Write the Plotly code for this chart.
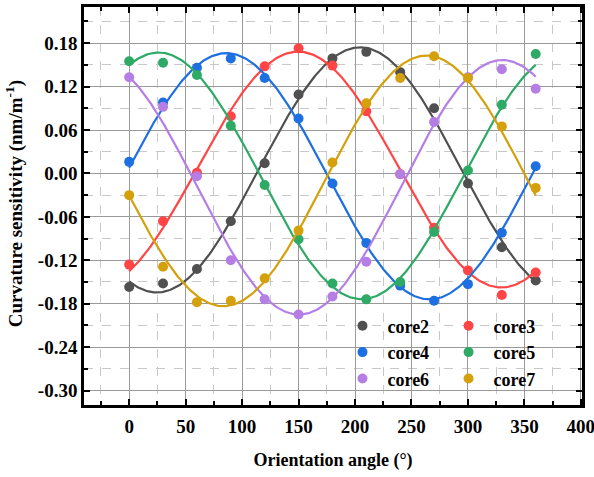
import numpy as np
import plotly.graph_objects as go

angles = [0, 30, 60, 90, 120, 150, 180, 210, 240, 270, 300, 330, 360]

core2 = [-0.157, -0.152, -0.132, -0.066, 0.014, 0.109, 0.159, 0.168, 0.140, 0.090, -0.014, -0.102, -0.148]
core3 = [-0.126, -0.066, 0.001, 0.079, 0.148, 0.173, 0.149, 0.086, -0.001, -0.075, -0.134, -0.168, -0.137]
core4 = [0.016, 0.098, 0.146, 0.159, 0.132, 0.076, -0.014, -0.096, -0.155, -0.176, -0.153, -0.082, 0.010]
core5 = [0.155, 0.153, 0.136, 0.066, -0.016, -0.091, -0.152, -0.174, -0.150, -0.081, 0.004, 0.095, 0.165]
core6 = [0.133, 0.092, -0.004, -0.120, -0.174, -0.195, -0.170, -0.122, -0.001, 0.071, 0.133, 0.144, 0.117]
core7 = [-0.030, -0.129, -0.178, -0.176, -0.145, -0.079, 0.015, 0.097, 0.132, 0.162, 0.132, 0.065, -0.020]

series_names = ["core2", "core3", "core4", "core5", "core6", "core7"]
series_values = [core2, core3, core4, core5, core6, core7]
series_colors = ["#505050", "#FF4545", "#1E6FE0", "#2EAA66", "#B47EE5", "#D4A00C"]
legend_ids = ["legend", "legend2", "legend", "legend2", "legend", "legend2"]

x_tick_vals = [0, 50, 100, 150, 200, 250, 300, 350, 400]
x_tick_labels = ["0", "50", "100", "150", "200", "250", "300", "350", "400"]
y_tick_vals = [-0.30, -0.24, -0.18, -0.12, -0.06, 0.00, 0.06, 0.12, 0.18]
y_tick_labels = ["-0.30", "-0.24", "-0.18", "-0.12", "-0.06", "0.00", "0.06", "0.12", "0.18"]

FONT = "Liberation Serif"

fig = go.Figure()

xa = np.array(angles, dtype=float)
xf = np.linspace(0, 360, 361)
for name, vals, col, lg in zip(series_names, series_values, series_colors, legend_ids):
    # least-squares sinusoidal fit (period 360 deg) of the measured points
    rad = np.deg2rad(xa)
    A = np.column_stack([np.ones_like(rad), np.sin(rad), np.cos(rad)])
    coef, *_ = np.linalg.lstsq(A, np.array(vals), rcond=None)
    rf = np.deg2rad(xf)
    yf = coef[0] + coef[1] * np.sin(rf) + coef[2] * np.cos(rf)
    fig.add_trace(go.Scatter(x=xf, y=yf, mode="lines", line=dict(color=col, width=2.2),
                             showlegend=False, hoverinfo="skip"))
    fig.add_trace(go.Scatter(x=angles, y=vals, mode="markers", name=name,
                             marker=dict(color=col, size=10), legend=lg))

axis_common = dict(
    showline=True, linecolor="black", linewidth=2.5, mirror="ticks",
    ticks="inside", ticklen=6, tickwidth=2, tickcolor="black",
    showgrid=True, gridcolor="#9a9a9a", gridwidth=1.3,
    zeroline=False, automargin=False,
    tickfont=dict(family=FONT, size=19, color="black", weight="bold"),
)

fig.update_xaxes(
    range=[-40, 401], tickvals=x_tick_vals, ticktext=x_tick_labels,
    minor=dict(dtick=25, tick0=0, ticks="inside", ticklen=4, tickwidth=1.5, tickcolor="black",
               showgrid=True, gridcolor="#c8c8c8", griddash="dash", gridwidth=1.2),
    title=dict(text="Orientation angle (°)", font=dict(family=FONT, size=18, color="black", weight="bold"),
               standoff=18),
    ticklabelstandoff=2, ticklabeloverflow="allow",
    **axis_common,
)
fig.update_yaxes(
    range=[-0.32, 0.23], tickvals=y_tick_vals, ticktext=y_tick_labels,
    minor=dict(dtick=0.03, tick0=0, ticks="inside", ticklen=4, tickwidth=1.5, tickcolor="black",
               showgrid=True, gridcolor="#c8c8c8", griddash="dash", gridwidth=1.2),
    **axis_common,
)

fig.add_annotation(
    text="Curvature sensitivity (nm/m<sup>-1</sup>)", textangle=-90,
    xref="paper", yref="paper", x=-0.1406, y=0.507, xanchor="center", yanchor="middle",
    showarrow=False, font=dict(family=FONT, size=19, color="black", weight="bold"),
)

leg_font = dict(family=FONT, size=18, color="black", weight="bold")
fig.update_layout(
    width=594, height=477,
    margin=dict(l=84, r=12, t=7, b=72),
    paper_bgcolor="white", plot_bgcolor="white",
    legend=dict(x=0.509, y=0.245, xanchor="left", yanchor="top", bgcolor="rgba(0,0,0,0)",
                font=leg_font, tracegroupgap=0, itemwidth=40),
    legend2=dict(x=0.722, y=0.245, xanchor="left", yanchor="top", bgcolor="rgba(0,0,0,0)",
                 font=leg_font, tracegroupgap=0, itemwidth=40),
)

fig.write_html("out.html", config={"displayModeBar": False},
               post_script="document.body.style.margin='0px';")
